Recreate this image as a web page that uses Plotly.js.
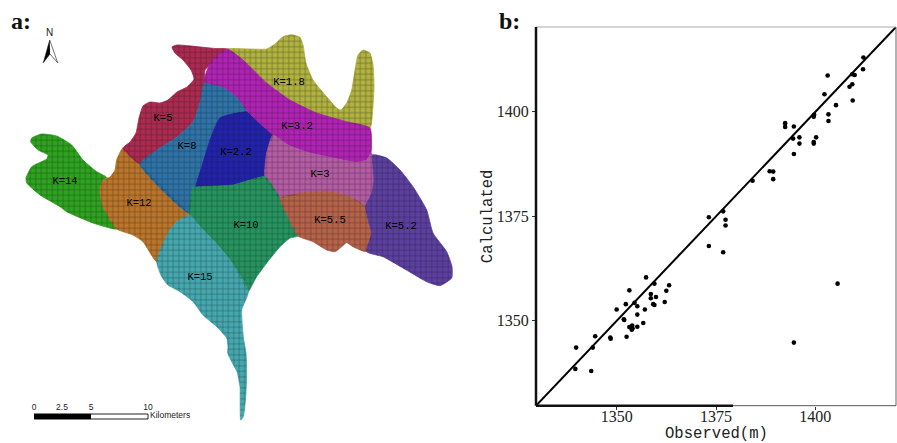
<!DOCTYPE html>
<html><head><meta charset="utf-8">
<script src="https://cdn.plot.ly/plotly-3.0.1.min.js"></script>
<style>html,body{margin:0;padding:0;background:#fff}#c{width:897px;height:443px}</style></head>
<body><div id="c"></div>
<script>
// ---- Panel b: observed vs calculated heads (m)
const observed = [1373.2,1376.8,1377.4,1377.4,1384.2,1388.5,1389.4,1389.4,1392.4,1392.4,1394.6,1394.4,1394.6,1396,1396,1399.6,1399.7,1399.6,1399.6,1400.2,1402.3,1403.1,1403.3,1403.3,1405.2,1408.6,1409.3,1409.3,1409.9,1409.4,1412,1412.1,
 1373.2,1376.8,1405.6,1394.6,
 1357.4,1359.5,1363.2,1362.5,1353.2,1358.6,1358.6,1359.9,1352.3,1354.5,1355.2,1362.1,1359.2,1359.5,1350,1357.1,1355.2,1351.8,1351.9,1356.7,1355.2,1353.2,1353.9,1353.8,1354,1352.5,1344.6,1348.4,1348.5,1339.8,1344,1339.6,1343.6];
const calculated = [1374.8,1376.2,1374.2,1372.8,1383.5,1385.8,1385.7,1383.9,1397.3,1396.4,1396.5,1393.6,1389.9,1393.9,1392.4,1398.8,1399.3,1392.4,1392.8,1393.9,1404.2,1408.7,1399.4,1397.8,1401.6,1406,1406.6,1409,1408.8,1402.7,1410.2,1413,
 1367.9,1366.4,1358.9,1344.8,
 1360.4,1358.9,1358.5,1357.2,1357.3,1356.4,1355.4,1355.7,1354,1354.3,1353.5,1354.5,1354,1353.8,1352.7,1352.7,1351.5,1350.4,1350.2,1349.5,1348.6,1348.5,1348.9,1347.9,1348.2,1346.2,1346.3,1346,1345.7,1343.6,1343.6,1338.5,1338];
const fitX = [1329.7,1420.3];
const fitY = [1329.7,1420.3];
const axisRange = [1329.7,1420.3];
const tickVals = [1350,1375,1400];
const tickText = ['1350','1375','1400'];

// ---- Panel a: zones, outlines (image pixel coordinates)
const zoneNames = ['K=14','K=12','K=5','K=8','K=2.2','K=1.8','K=3.2','K=3','K=10','K=5.5','K=5.2','K=15'];
const zoneColors = ['#2FA31F','#BC752A','#AD2A50','#2F73A8','#2222AC','#B2B23F','#B222B4','#B65CA4','#26945F','#B8624A','#5D3FA0','#46A8AF'];
const zoneX = [
 [31.7,41.7,56.7,71.7,83,96.7,106.7,103,100,103,116.7,93,66.7,60,40,26.7,26,31.7,46.7,48,38,30.7],
 [123,116.7,115,110,103,100,103,116.7,133,143,156.7,168,176.7,190,189,140],
 [227,215,177,172,175,183,191,194,187,177,168,160,150,143,139,136,130,123,140,157,177,193,200,205,205,213],
 [205,200,193,177,157,140,189,193,196,201.7,210,220,248,238,223],
 [196,201.7,210,220,248,261.7,273,266.7,265,250,233,200],
 [227,266.7,275,283,291.7,300,303,306,313,326.7,336.7,340.7,346.7,351.7,355,358,363,370,373,374,372.7,370,346.7,316.7,290,266.7,243],
 [227,243,266.7,290,316.7,346.7,370,371,366.7,356.7,333,310,288,273,261.7,248,238,223,205,205,210],
 [273,288,310,333,356.7,366.7,371,373,374,371.7,365.7,350,326.7,303,280,265,266.7],
 [265,280,288,298,290,280,266.7,256.7,250,248.3,230,213,200,190,189,193,196,200,233,250],
 [280,303,326.7,350,365.7,370,371.7,366.7,353,346.7,341.7,335,326.7,313,298,288],
 [373,386.7,400,413,426.7,433,446.7,452,451.7,440,426.7,403,383,366.7,371.7,370,365.7,371.7,374],
 [190,176.7,168,156.7,161.7,168,180,193,203,216.7,226.7,228,227.7,231.7,237,240,240.7,243.3,245.7,246.7,246,243.3,241.7,248.3,230,213,200]
];
const zoneY = [
 [138,134,136,145,160,171.7,177.3,180,190,206.7,229,223,211.7,206.7,195,183,178,166.7,159,155,150,141.7],
 [148,160,170,177,180,190,206.7,229,235,241.7,261.7,233,221.7,215,213,164],
 [49,48.5,45,47,53,60,70,79,87,92,100,103,102,106,118,133,142,148,164,150,137,122,103,82,70,62],
 [82,103,122,137,150,164,213,187,187,167,140,118,112,98,86.7],
 [187,167,140,118,112,125,135,153,177,180,185,187],
 [49,49,44,36.7,34.7,37.3,45,63,80,96.7,108,110,103,90,70,55,50,53,65,86.7,110,128,121.7,113,100,83,60],
 [49,60,83,100,113,121.7,128,153,160,162.3,158,153,145,135,125,112,98,86.7,82,77,63],
 [135,145,153,158,162.3,160,153,155,180,193,206.7,196.7,191,192.7,198,176.7,153],
 [176.7,198,216.7,236,238,246.7,263,276.7,289,291.7,260,240,226.7,215,213,187,187,186.7,185,180],
 [198,192.7,191,196.7,206.7,226.7,233,251.7,246.7,242.7,246.7,251.7,250,241.7,236,216.7],
 [155,158,170,186.7,210,233,251.7,266.7,278,285.7,281.7,268,256.7,251.7,233,226.7,206.7,193,180],
 [215,221.7,233,261.7,276.7,285,291.7,301.7,315,326.7,338,346.7,353,361.7,371.7,386.7,420,416.7,396.7,373,353,336.7,310,291.7,260,240,226.7]
];
const labelX = [65,139,163,187,236,289,297,320,246,330,401,200];
const labelY = [181,203,118,146,152,82,126,174,225,220,226,277];

// north arrow and scale bar (image pixel coordinates)
const arrowLeftX = [49.7,43.3,50]; const arrowLeftY = [40,62.7,54];
const arrowRightX = [49.7,57.7,50]; const arrowRightY = [40,62.7,54];
const scaleBlackX = [34,91,91,34]; const scaleBlackY = [414,414,419,419];
const scaleWhiteX = [91,148,148,91]; const scaleWhiteY = [414,414,419,419];
const scaleTickX = [34,62,91,148];
const scaleTicks = ['0','2.5','5','10'];

const traces = [];
zoneNames.forEach((n,i)=>{
  const xs=zoneX[i].concat(zoneX[i][0]), ys=zoneY[i].concat(zoneY[i][0]);
  traces.push({type:'scatter',mode:'lines',name:n,xaxis:'x2',yaxis:'y2',x:xs,y:ys,
    fill:'toself',fillcolor:zoneColors[i],line:{width:0.8,color:zoneColors[i],shape:'spline',smoothing:0.5},hoverinfo:'name'});
});
zoneNames.forEach((n,i)=>{
  const xs=zoneX[i].concat(zoneX[i][0]), ys=zoneY[i].concat(zoneY[i][0]);
  traces.push({type:'scatter',mode:'lines',name:n,xaxis:'x2',yaxis:'y2',x:xs,y:ys,
    line:{width:0,shape:'spline',smoothing:0.5,color:'rgba(0,0,0,0)'},
    fill:'toself',fillcolor:'rgba(0,0,0,0)',
    fillpattern:{shape:'+',fgcolor:'rgba(10,20,20,0.5)',bgcolor:'rgba(0,0,0,0)',size:5.5,solidity:0.2},
    hoverinfo:'skip'});
});
traces.push({type:'scatter',mode:'text',xaxis:'x2',yaxis:'y2',x:labelX,y:labelY,text:zoneNames,
  textfont:{family:'Liberation Mono, monospace',size:10.5,color:'#000'},textposition:'middle center',hoverinfo:'skip'});
traces.push({type:'scatter',mode:'lines',xaxis:'x2',yaxis:'y2',x:arrowRightX,y:arrowRightY,fill:'toself',fillcolor:'#fff',line:{width:0.7,color:'#333'},hoverinfo:'skip'});
traces.push({type:'scatter',mode:'lines',xaxis:'x2',yaxis:'y2',x:arrowLeftX,y:arrowLeftY,fill:'toself',fillcolor:'#000',line:{width:0.5,color:'#000'},hoverinfo:'skip'});
traces.push({type:'scatter',mode:'lines',xaxis:'x2',yaxis:'y2',x:scaleBlackX,y:scaleBlackY,fill:'toself',fillcolor:'#000',line:{width:1,color:'#000'},hoverinfo:'skip'});
traces.push({type:'scatter',mode:'lines',xaxis:'x2',yaxis:'y2',x:scaleWhiteX,y:scaleWhiteY,fill:'toself',fillcolor:'#fff',line:{width:1,color:'#222'},hoverinfo:'skip'});
traces.push({type:'scatter',mode:'text',xaxis:'x2',yaxis:'y2',x:scaleTickX,y:[408,408,408,408],text:scaleTicks,
  textfont:{family:'Liberation Sans, sans-serif',size:8.5,color:'#222'},textposition:'middle center',hoverinfo:'skip'});
traces.push({type:'scatter',mode:'text',xaxis:'x2',yaxis:'y2',x:[150],y:[416],text:['Kilometers'],
  textfont:{family:'Liberation Sans, sans-serif',size:8.5,color:'#222'},textposition:'middle right',hoverinfo:'skip'});
traces.push({type:'scatter',mode:'text',xaxis:'x2',yaxis:'y2',x:[49.7],y:[33],text:['N'],
  textfont:{family:'Liberation Sans, sans-serif',size:10,color:'#222'},textposition:'middle center',hoverinfo:'skip'});

// panel b
traces.push({type:'scatter',mode:'lines',name:'1:1',x:fitX,y:fitY,line:{color:'#000',width:2},cliponaxis:false,hoverinfo:'skip'});
traces.push({type:'scatter',mode:'markers',name:'wells',x:observed,y:calculated,marker:{color:'#000',size:4.6},hovertemplate:'%{x}, %{y}<extra></extra>'});

const serif='Liberation Serif, Times New Roman, serif';
const layout={
  width:897,height:443,margin:{l:0,r:0,t:0,b:0},paper_bgcolor:'#fff',plot_bgcolor:'rgba(0,0,0,0)',showlegend:false,
  xaxis:{domain:[536/897,896/897],range:axisRange,tickvals:tickVals,ticktext:tickText,ticks:'outside',ticklen:3,tickwidth:1,tickcolor:'#333',
    showgrid:false,zeroline:false,showline:false,ticklabelstandoff:-7,tickfont:{family:serif,size:16,color:'#222'},automargin:false},
  yaxis:{domain:[37.3/443,416/443],range:axisRange,tickvals:tickVals,ticktext:tickText,ticks:'outside',ticklen:3,tickwidth:1,tickcolor:'#333',
    showgrid:false,zeroline:false,showline:false,tickfont:{family:serif,size:16,color:'#222'},
    title:{text:'Calculated',font:{family:'Liberation Mono, monospace',size:15.6,color:'#222'},standoff:0},automargin:false},
  xaxis2:{domain:[0,1],range:[0,897],visible:false,anchor:'y2',fixedrange:true},
  yaxis2:{domain:[0,1],range:[443,0],visible:false,anchor:'x2',fixedrange:true},
  shapes:[
    {type:'line',xref:'x domain',yref:'y domain',x0:0,x1:1,y0:1,y1:1,line:{color:'#aaa',width:1}},
    {type:'line',xref:'x domain',yref:'y domain',x0:1,x1:1,y0:0,y1:1,line:{color:'#666',width:1}},
    {type:'line',xref:'x domain',yref:'y domain',x0:0,x1:1,y0:0,y1:0,line:{color:'#555',width:1}},
    {type:'line',xref:'x domain',yref:'y domain',x0:0,x1:0,y0:0,y1:1,line:{color:'#111',width:2.5}},
    {type:'line',xref:'x domain',yref:'y domain',x0:0,x1:197/360,y0:0,y1:0,line:{color:'#111',width:2.5}}
  ],
  annotations:[
    {xref:'paper',yref:'paper',x:716/897,y:1-433.5/443,xanchor:'center',yanchor:'middle',showarrow:false,borderpad:0,text:'Observed(m)',font:{family:'Liberation Mono, monospace',size:15.6,color:'#222'}},
    {xref:'paper',yref:'paper',x:9/897,y:1-21/443,xanchor:'left',yanchor:'middle',showarrow:false,text:'<b>a:</b>',font:{family:serif,size:24,color:'#111'}},
    {xref:'paper',yref:'paper',x:497/897,y:1-21/443,xanchor:'left',yanchor:'middle',showarrow:false,text:'<b>b:</b>',font:{family:serif,size:24,color:'#111'}}
  ]
};
Plotly.newPlot('c',traces,layout,{displayModeBar:false,responsive:false});
</script></body></html>
